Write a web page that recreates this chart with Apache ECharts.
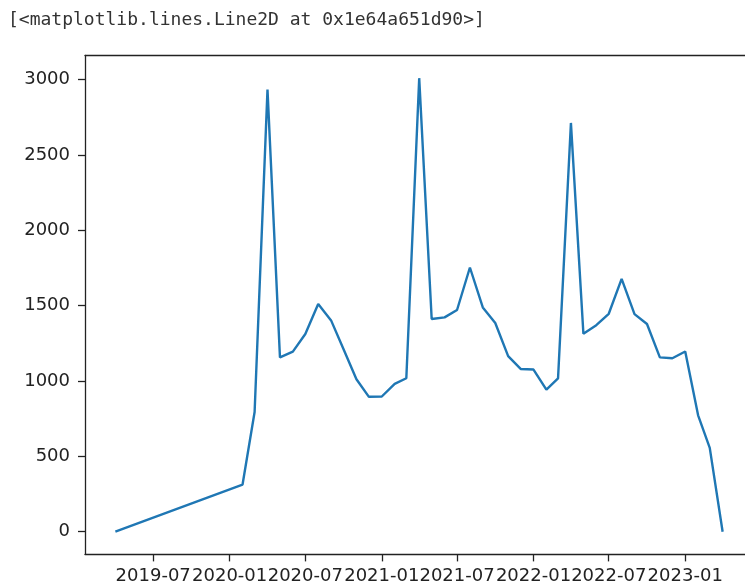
<!DOCTYPE html>
<html>
<head>
<meta charset="utf-8">
<script src="https://cdn.jsdelivr.net/npm/echarts@6/dist/echarts.min.js"></script>
<style>
  html, body { margin: 0; padding: 0; background: #fff; overflow: hidden; }
  #chart { width: 745px; height: 586px; }
</style>
</head>
<body>
<div id="chart"></div>
<script>
// ---- data ----
const dates = [
  '2019-04-01', '2020-02-01', '2020-03-01', '2020-04-01', '2020-05-01', '2020-06-01',
  '2020-07-01', '2020-08-01', '2020-09-01', '2020-10-01', '2020-11-01', '2020-12-01',
  '2021-01-01', '2021-02-01', '2021-03-01', '2021-04-01', '2021-05-01', '2021-06-01',
  '2021-07-01', '2021-08-01', '2021-09-01', '2021-10-01', '2021-11-01', '2021-12-01',
  '2022-01-01', '2022-02-01', '2022-03-01', '2022-04-01', '2022-05-01', '2022-06-01',
  '2022-07-01', '2022-08-01', '2022-09-01', '2022-10-01', '2022-11-01', '2022-12-01',
  '2023-01-01', '2023-02-01', '2023-03-01', '2023-04-01'
];
const values = [
  0, 313, 794, 2933, 1157, 1195,
  1312, 1511, 1402, 1210, 1012, 895,
  897, 981, 1018, 3009, 1411, 1422,
  1471, 1753, 1488, 1385, 1165, 1080,
  1076, 943, 1017, 2712, 1314, 1370,
  1446, 1678, 1444, 1378, 1157, 1151,
  1196, 772, 556, 0
];
const xTickLabels = ['2019-07', '2020-01', '2020-07', '2021-01', '2021-07', '2022-01', '2022-07', '2023-01'];
const yTickValues = [0, 500, 1000, 1500, 2000, 2500, 3000];
const headerText = '[<matplotlib.lines.Line2D at 0x1e64a651d90>]';

// ---- build ----
const ts = d => Date.parse(d + 'T00:00:00Z');
const seriesData = dates.map((d, i) => [ts(d), values[i]]);
const xTicks = xTickLabels.map(l => ts(l + '-01'));

// matplotlib default 5% margins; the reference figure is cropped on the right
// (its right spine lies 8px beyond the visible 745px), so the visible x range ends early
const tMin = Math.min(...seriesData.map(p => p[0]));
const tMax = Math.max(...seriesData.map(p => p[0]));
const vMin = Math.min(...values);
const vMax = Math.max(...values);
const xLo = tMin - (tMax - tMin) * 0.05;
const xFull = (tMax - tMin) * 1.1;
const xHi = xLo + xFull * (660 / 668);
const yPad = (vMax - vMin) * 0.05;

const labelFor = v => {
  let best = -1, bestD = Infinity;
  xTicks.forEach((t, i) => { const d = Math.abs(t - v); if (d < bestD) { bestD = d; best = i; } });
  return bestD < 86400000 ? xTickLabels[best] : '';
};

const axisColor = '#222';
const chart = echarts.init(document.getElementById('chart'), null, { renderer: 'canvas' });
chart.setOption({
  animation: false,
  backgroundColor: '#fff',
  title: {
    text: headerText,
    left: 3,
    top: 6,
    textStyle: { fontFamily: 'DejaVu Sans Mono', fontSize: 18, fontWeight: 'normal', color: '#333' }
  },
  grid: { left: 85, right: 0, top: 55.5, bottom: 31.6, show: false },
  xAxis: [{
    type: 'value',
    min: xLo,
    max: xHi,
    scale: true,
    splitLine: { show: false },
    axisLine: { show: true, onZero: false, lineStyle: { color: axisColor, width: 1.3 } },
    axisTick: { show: true, customValues: xTicks, length: 7, lineStyle: { color: axisColor, width: 1.3 } },
    axisLabel: {
      show: true, customValues: xTicks, formatter: v => labelFor(v),
      fontFamily: 'DejaVu Sans', fontSize: 18, color: axisColor, margin: 13, hideOverlap: false
    }
  }, {
    type: 'value',
    position: 'top',
    min: xLo,
    max: xHi,
    scale: true,
    splitLine: { show: false },
    axisLine: { show: true, onZero: false, lineStyle: { color: axisColor, width: 1.3 } },
    axisTick: { show: false },
    axisLabel: { show: false }
  }],
  yAxis: {
    type: 'value',
    min: vMin - yPad,
    max: vMax + yPad,
    splitLine: { show: false },
    axisLine: { show: true, onZero: false, lineStyle: { color: axisColor, width: 1.3 } },
    axisTick: { show: true, customValues: yTickValues, length: 7, lineStyle: { color: axisColor, width: 1.3 } },
    axisLabel: {
      show: true, customValues: yTickValues, formatter: v => String(Math.round(v)),
      fontFamily: 'DejaVu Sans', fontSize: 18, color: axisColor, margin: 15
    }
  },
  series: [{
    type: 'line',
    xAxisIndex: 0,
    data: seriesData,
    showSymbol: false,
    symbol: 'none',
    smooth: false,
    lineStyle: { color: '#1f77b4', width: 2.4 },
    itemStyle: { color: '#1f77b4' }
  }]
});
</script>
</body>
</html>
